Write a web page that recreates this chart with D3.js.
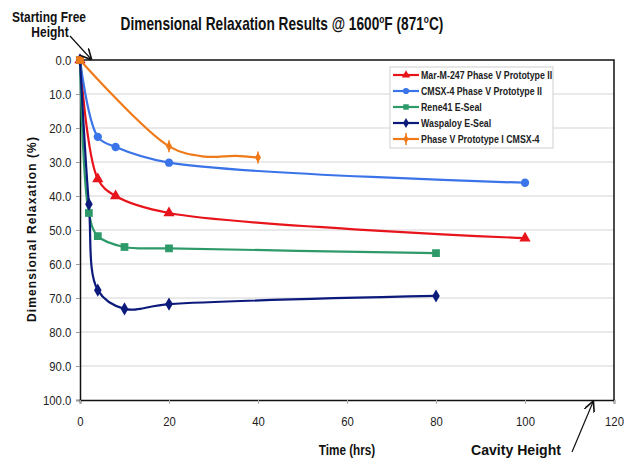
<!DOCTYPE html>
<html>
<head>
<meta charset="utf-8">
<script src="https://cdn.jsdelivr.net/npm/d3@7"></script>
<style>
  body { margin: 0; background: #fff; }
  text { font-family: 'Liberation Sans', Arial, sans-serif; }
</style>
</head>
<body>
<div id="chart"></div>
<script>
// series values: [time (hrs), relaxation (%)]
const marM247 = [[0, 0], [4, 35], [8, 40], [20, 45], [100, 52.4]]
const cmsx4 = [[0, 0], [4, 22.6], [8, 25.6], [20, 30.2], [100, 36.1]]
const rene41 = [[0, 0], [2, 45], [4, 51.8], [10, 55], [20, 55.4], [80, 56.8]]
const waspaloy = [[0, 0], [2, 42.4], [4, 67.7], [10, 73.2], [20, 71.8], [80, 69.4]]
const protoI = [[0, 0], [20, 25.4], [28, 28.4], [35, 28.2], [40, 28.7]]
const protoIMarked = [0, 20, 40]

const seriesNames = ['Mar-M-247 Phase V Prototype II', 'CMSX-4 Phase V Prototype II', 'Rene41 E-Seal', 'Waspaloy E-Seal', 'Phase V Prototype I CMSX-4']
const seriesColors = ['#e8141b', '#3a74e8', '#2e9a6a', '#0c1a7c', '#ef7a1a']
const seriesMarkers = ['triangle', 'circle', 'square', 'diamond', 'cross']

const xTicks = [0, 20, 40, 60, 80, 100, 120]
const yTicks = [0, 10, 20, 30, 40, 50, 60, 70, 80, 90, 100]

const W = 626
const H = 476
const margin = { top: 60, right: 12, bottom: 76, left: 80 }
const width = W - margin.left - margin.right
const height = H - margin.top - margin.bottom

const svg = d3.select('#chart').append('svg')
  .attr('width', W)
  .attr('height', H)

const g = svg.append('g')
  .attr('transform', `translate(${margin.left},${margin.top})`)

const x = d3.scaleLinear().domain([0, 120]).range([0, width])
const y = d3.scaleLinear().domain([0, 100]).range([0, height])

// condensed text: the narrow face is not installed, so squeeze horizontally
function narrowText (parent, px, py, sx, anchor) {
  return parent.append('g')
    .attr('transform', `translate(${px},${py}) scale(${sx},1)`)
    .append('text')
    .attr('text-anchor', anchor)
    .attr('fill', '#111')
}

// horizontal grid
g.append('g')
  .selectAll('line')
  .data(yTicks.slice(1, -1))
  .join('line')
  .attr('x1', 0)
  .attr('x2', width)
  .attr('y1', d => y(d))
  .attr('y2', d => y(d))
  .attr('stroke', '#d4d4d4')
  .attr('stroke-width', 1)

// frame: top and right
g.append('path')
  .attr('d', `M0,0H${width}V${height}`)
  .attr('fill', 'none')
  .attr('stroke', '#111')
  .attr('stroke-width', 1.5)

// axes
const yAxis = g.append('g')
  .call(d3.axisLeft(y).tickValues(yTicks).tickFormat(d3.format('.1f')).tickSize(4))
yAxis.select('.domain').attr('stroke', '#111').attr('stroke-width', 1.5)
yAxis.selectAll('.tick line').attr('stroke', '#999')
yAxis.selectAll('text')
  .style('font-size', '13px')
  .attr('fill', '#222')
  .attr('x', -10)
  .attr('transform', 'scale(0.87,1)')

const xAxis = g.append('g')
  .attr('transform', `translate(0,${height})`)
  .call(d3.axisBottom(x).tickValues(xTicks).tickSize(4))
xAxis.select('.domain').attr('stroke', '#111').attr('stroke-width', 1.5)
xAxis.selectAll('.tick line').attr('stroke', '#aaa')
xAxis.selectAll('text')
  .style('font-size', '13px')
  .attr('fill', '#222')
  .attr('y', 17)
  .attr('transform', 'scale(0.87,1)')

// lines
const allSeries = [marM247, cmsx4, rene41, waspaloy, protoI]
const line = d3.line()
  .x(d => x(d[0]))
  .y(d => y(d[1]))
  .curve(d3.curveCatmullRom.alpha(0.5))

const symbolType = {
  triangle: d3.symbolTriangle,
  circle: d3.symbolCircle,
  square: d3.symbolSquare,
  diamond: d3.symbolDiamond
}

function drawMarker (sel, kind, color, size) {
  if (kind === 'cross') {
    sel.append('path')
      .attr('d', d3.symbol(d3.symbolDiamond, size * 0.8)())
      .attr('fill', color)
    sel.append('line')
      .attr('y1', -6).attr('y2', 6)
      .attr('stroke', color).attr('stroke-width', 1.5)
  } else {
    sel.append('path')
      .attr('d', d3.symbol(symbolType[kind], size)())
      .attr('fill', color)
  }
}

allSeries.forEach((data, i) => {
  g.append('path')
    .datum(data)
    .attr('fill', 'none')
    .attr('stroke', seriesColors[i])
    .attr('stroke-width', 2.2)
    .attr('d', line)
})

const sizes = { triangle: 55, circle: 55, square: 60, diamond: 50, cross: 40 }
allSeries.forEach((data, i) => {
  const pts = i === 4 ? data.filter(d => protoIMarked.includes(d[0]) && d[0] !== 0) : data
  pts.forEach(d => {
    const m = g.append('g').attr('transform', `translate(${x(d[0])},${y(d[1])})`)
    drawMarker(m, seriesMarkers[i], seriesColors[i], sizes[seriesMarkers[i]])
  })
})
// orange square sits on top at the origin
g.append('path')
  .attr('transform', `translate(${x(protoI[0][0])},${y(protoI[0][1])})`)
  .attr('d', d3.symbol(d3.symbolSquare, 60)())
  .attr('fill', seriesColors[4])

// legend
const legend = svg.append('g').attr('transform', 'translate(390,67)')
legend.append('rect')
  .attr('width', 163)
  .attr('height', 81)
  .attr('fill', '#fff')
  .attr('stroke', '#cfcfcf')

seriesNames.forEach((name, i) => {
  const row = legend.append('g').attr('transform', `translate(0,${8 + i * 16})`)
  row.append('line')
    .attr('x1', 3).attr('x2', 29)
    .attr('stroke', seriesColors[i]).attr('stroke-width', 2.2)
  const m = row.append('g').attr('transform', 'translate(16,0)')
  drawMarker(m, seriesMarkers[i], seriesColors[i], 30)
  narrowText(row, 31, 4, 0.84, 'start')
    .style('font-size', '10.5px')
    .style('font-weight', 'bold')
    .attr('fill', '#222')
    .text(name)
})

// title
const title = narrowText(svg, 282, 30, 0.76, 'middle')
  .style('font-size', '18px')
  .style('font-weight', 'bold')
title.append('tspan').text('Dimensional Relaxation Results @ 1600')
title.append('tspan').attr('dy', -7).style('font-size', '11px').text('o')
title.append('tspan').attr('dy', 7).text('F (871')
title.append('tspan').attr('dy', -7).style('font-size', '11px').text('o')
title.append('tspan').attr('dy', 7).text('C)')

// axis titles
narrowText(svg, 347, 455, 0.84, 'middle')
  .style('font-size', '14px')
  .style('font-weight', 'bold')
  .text('Time (hrs)')

svg.append('text')
  .attr('transform', 'translate(36,229) rotate(-90)')
  .attr('text-anchor', 'middle')
  .style('font-size', '12px')
  .style('font-weight', 'bold')
  .style('letter-spacing', '1.1px')
  .attr('fill', '#111')
  .text('Dimensional Relaxation (%)')

// annotations
svg.append('defs').append('marker')
  .attr('id', 'arrow')
  .attr('viewBox', '0 0 10 10')
  .attr('refX', 9)
  .attr('refY', 5)
  .attr('markerWidth', 9)
  .attr('markerHeight', 9)
  .attr('orient', 'auto')
  .append('path')
  .attr('d', 'M0,0L10,5L0,10')
  .attr('fill', 'none')
  .attr('stroke', '#111')
  .attr('stroke-width', 1.5)

narrowText(svg, 49, 22, 0.8, 'middle')
  .style('font-size', '15px')
  .style('font-weight', 'bold')
  .text('Starting Free')
narrowText(svg, 50, 37, 0.8, 'middle')
  .style('font-size', '15px')
  .style('font-weight', 'bold')
  .text('Height')

svg.append('line')
  .attr('x1', 70).attr('y1', 36)
  .attr('x2', 91).attr('y2', 59)
  .attr('stroke', '#111').attr('stroke-width', 1.2)
  .attr('marker-end', 'url(#arrow)')

narrowText(svg, 516, 455, 0.94, 'middle')
  .style('font-size', '15px')
  .style('font-weight', 'bold')
  .text('Cavity Height')

svg.append('line')
  .attr('x1', 572).attr('y1', 452)
  .attr('x2', 593).attr('y2', 402)
  .attr('stroke', '#111').attr('stroke-width', 1.2)
  .attr('marker-end', 'url(#arrow)')
</script>
</body>
</html>
